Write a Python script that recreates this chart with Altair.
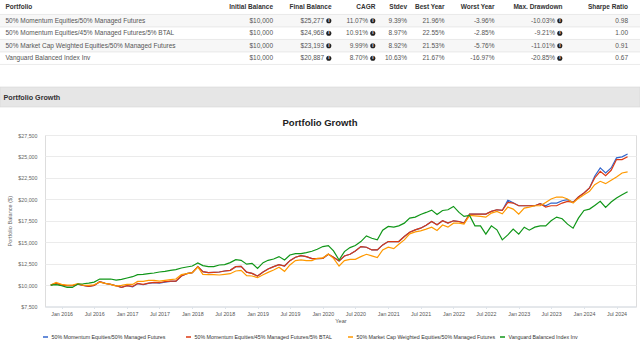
import altair as alt
import pandas as pd

# ---------------- data ----------------
series_names = [
    "50% Momentum Equities/50% Managed Futures",
    "50% Momentum Equities/45% Managed Futures/5% BTAL",
    "50% Market Cap Weighted Equities/50% Managed Futures",
    "Vanguard Balanced Index Inv",
]
series_colors = ["#3366cc", "#dc3912", "#ff9900", "#109618"]

months = pd.date_range("2015-11-01", "2024-09-01", freq="MS")

red = [10000, 10195, 10000, 9922, 9922, 10117, 9961, 9844, 9961, 10390, 10195, 10078,
       9922, 9727, 9922, 9844, 10195, 10078, 10234, 10312, 10273, 10390, 10468, 10468,
       11054, 11327, 11444, 12147, 11561, 11444, 11483, 11522, 11639, 11717, 12147, 12186,
       11500, 11366, 11054, 11522, 11873, 12147, 12381, 12225, 12849, 13239, 13435, 13318,
       13083, 13083, 13122, 13591, 13239, 12810, 13396, 13591, 13981, 14488, 14410, 14098,
       14098, 14684, 15074, 15074, 15074, 15659, 16167, 16440, 16635, 16986, 17416, 17025,
       17500, 17221, 17494, 17416, 17221, 18274, 18274, 18274, 18274, 18587, 18782, 18704,
       19640, 19562, 19250, 19250, 19250, 19250, 19484, 19094, 19250, 19250, 19562, 19758,
       19640, 20265, 20733, 21319, 22490, 23270, 22763, 23387, 24636, 24636, 24968]

blue = [10000, 10195, 10000, 9922, 9922, 10117, 9961, 9844, 9961, 10390, 10195, 10078,
        9922, 9727, 9922, 9800, 10150, 10040, 10190, 10270, 10230, 10350, 10430, 10430,
        11054, 11327, 11444, 12147, 11561, 11444, 11483, 11522, 11639, 11717, 12147, 12186,
        11500, 11366, 11054, 11522, 11873, 12147, 12381, 12225, 12849, 13239, 13435, 13318,
        13083, 13083, 13122, 13591, 13239, 12810, 13396, 13591, 13981, 14488, 14410, 14098,
        14098, 14684, 15074, 15074, 15074, 15659, 16167, 16440, 16635, 16986, 17416, 17025,
        17500, 17221, 17494, 17416, 17221, 18274, 18274, 18274, 18274, 18587, 18782, 18704,
        19900, 19600, 19250, 19250, 19250, 19250, 19484, 19250, 19562, 19562, 19836, 19953,
        19640, 20265, 20733, 21319, 22685, 23661, 23075, 23661, 24831, 24948, 25277]

orange = [10000, 10312, 10078, 10000, 10000, 10156, 10000, 9961, 10039, 10351, 10195, 10078,
          9883, 9961, 10078, 10078, 10429, 10429, 10546, 10546, 10468, 10546, 10624, 10703,
          11210, 11327, 11444, 12108, 11249, 11210, 11210, 11171, 11249, 11327, 11639, 11717,
          11100, 11054, 10859, 11210, 11483, 11756, 12069, 11600, 12342, 12849, 12927, 12849,
          12849, 13122, 13161, 13630, 13122, 12225, 12849, 13005, 13005, 13318, 13591, 13396,
          13200, 14098, 14410, 14254, 14762, 15269, 15972, 16206, 16323, 16518, 16752, 16362,
          17000, 16752, 17221, 17221, 17103, 18118, 18079, 18001, 17923, 18392, 18587, 18313,
          19094, 18860, 18274, 18977, 19094, 19250, 19250, 19640, 20031, 20265, 20265, 20031,
          19562, 20109, 20538, 20928, 21709, 22099, 21826, 22216, 22607, 23075, 23193]

green = [10000, 10039, 9922, 9727, 9727, 10117, 10156, 10234, 10351, 10703, 10703, 10703,
         10585, 10664, 10820, 10976, 11210, 11249, 11327, 11405, 11522, 11600, 11717, 11795,
         11991, 12108, 12225, 12576, 12264, 12147, 12147, 12342, 12381, 12615, 12966, 12888,
         12440, 12537, 11952, 12615, 12888, 13044, 13318, 12927, 13513, 13669, 13669, 13786,
         13942, 14176, 14488, 14606, 13981, 12927, 13903, 14371, 14606, 15074, 15737, 15464,
         15269, 16401, 16830, 16752, 16908, 17221, 17806, 17923, 18235, 18470, 18743, 18235,
         18700, 18782, 19172, 18470, 18001, 18118, 16908, 16908, 15933, 16908, 16440, 15269,
         15855, 16518, 15933, 16752, 16401, 16752, 16908, 16908, 17494, 17923, 17728, 17103,
         16635, 17806, 18704, 18860, 19289, 19758, 19055, 19679, 20148, 20538, 20887]

# table
col_names = ["Portfolio", "Initial Balance", "Final Balance", "CAGR", "Stdev",
             "Best Year", "Worst Year", "Max. Drawdown", "Sharpe Ratio"]
initial_bal = ["$10,000", "$10,000", "$10,000", "$10,000"]
final_bal = ["$25,277", "$24,968", "$23,193", "$20,887"]
cagr = ["11.07%", "10.91%", "9.99%", "8.70%"]
stdev = ["9.39%", "8.97%", "8.92%", "10.63%"]
best_year = ["21.96%", "22.55%", "21.53%", "21.67%"]
worst_year = ["-3.96%", "-2.85%", "-5.76%", "-16.97%"]
max_dd = ["-10.03%", "-9.21%", "-11.01%", "-20.85%"]
sharpe = ["0.98", "1.00", "0.91", "0.67"]

y_ticks = [7500, 10000, 12500, 15000, 17500, 20000, 22500, 25000, 27500]
x_tick_labels = [alt.DateTime(year=y, month=m, date=1)
                 for y in range(2016, 2025) for m in (1, 7)]

# ---------------- layout (pixels, relative to plot origin at 45,135) ----------------
OX, OY = 45, 135
FONT = "Liberation Sans"
PW, PH = 591, 171.5

df = pd.DataFrame([
    {"date": d, "series": n, "value": v}
    for n, vals in zip(series_names, [blue, red, orange, green])
    for d, v in zip(months, vals)
])

color_enc = alt.Color("series:N",
                      scale=alt.Scale(domain=series_names, range=series_colors),
                      legend=None)

lines = alt.Chart(df).mark_line(strokeWidth=1.2).encode(
    x=alt.X("date:T",
            scale=alt.Scale(domain=[alt.DateTime(year=2015, month=9, date=30),
                                    alt.DateTime(year=2024, month=10, date=18)]),
            axis=alt.Axis(values=x_tick_labels, format="%b %Y", title="Year",
                          grid=False, ticks=True, tickSize=2, tickColor="#dde3ea",
                          domainColor="#dde3ea", labelFontSize=5.3, labelColor="#555",
                          labelPadding=2.5, labelFont=FONT, titleFont=FONT,
                          titleFontSize=5.6, titleFontWeight="normal", titleColor="#555",
                          titleY=12, labelOverlap=False)),
    y=alt.Y("value:Q",
            scale=alt.Scale(domain=[7500, 27500], nice=False, zero=False),
            axis=alt.Axis(values=y_ticks, format="$,.0f", title="Portfolio Balance ($)",
                          grid=True, gridColor="#ebebeb", domain=False, ticks=False,
                          labelFontSize=5.3, labelColor="#666", labelPadding=8,
                          labelFont=FONT, titleFont=FONT, titleFontSize=5.6,
                          titleFontWeight="normal", titleColor="#666",
                          titleX=-33, titleY=PH / 2)),
    color=color_enc,
)

# custom legend (entry positions are layout)
legend_sym_x = [43, 186, 348, 500]
legend_y = 337
leg_df = pd.DataFrame({
    "series": series_names,
    "sx1": [x - OX for x in legend_sym_x],
    "sx2": [x + 5 - OX for x in legend_sym_x],
    "tx": [x + 8.5 - OX for x in legend_sym_x],
    "ty": [legend_y - OY] * 4,
})
legend_syms = alt.Chart(leg_df).mark_rule(strokeWidth=1.5).encode(
    x=alt.X("sx1:Q", scale=None), x2="sx2:Q", y=alt.Y("ty:Q", scale=None), color=color_enc)
legend_text = alt.Chart(leg_df).mark_text(
    font=FONT, fontSize=5.3, color="#333", align="left", baseline="middle").encode(
    text="series:N", x=alt.X("tx:Q", scale=None), y=alt.Y("ty:Q", scale=None))

# chart title
title_df = pd.DataFrame({"t": ["Portfolio Growth"]})
chart_title = alt.Chart(title_df).mark_text(
    font=FONT, fontSize=9.5, fontWeight="bold", color="#222", align="center",
    baseline="middle").encode(text="t:N", x=alt.value(320 - OX), y=alt.value(123 - OY))

# section header bar
bar = alt.Chart(title_df).mark_rect(fill="#e6e6e6", stroke="#d6d6d6", strokeWidth=0.6).encode(
    x=alt.value(-OX), x2=alt.value(640 - OX), y=alt.value(87 - OY), y2=alt.value(107 - OY))
bar_text = alt.Chart(title_df).mark_text(
    font=FONT, fontSize=7.2, fontWeight="bold", color="#333", align="left",
    baseline="middle").encode(text="t:N", x=alt.value(3.5 - OX), y=alt.value(97.5 - OY))

# table
head_y = 6.7
row_y = [20.7, 33.2, 45.7, 58.2]
row_h = 12.5
col_right = [None, 273, 331.5, 375.5, 407, 444.5, 494.5, 562.5, 628]
has_icon = [False, False, True, True, False, False, False, True, False]
columns = [series_names, initial_bal, final_bal, cagr, stdev, best_year, worst_year, max_dd, sharpe]

head_right, body_left, body_right, icons = [], [], [], []
for j, (name, vals) in enumerate(zip(col_names, columns)):
    if j > 0:
        head_right.append({"text": name, "px": col_right[j] - OX, "py": head_y - OY})
    for i, v in enumerate(vals):
        py = row_y[i] - OY
        if j == 0:
            body_left.append({"text": v, "px": 5.5 - OX, "py": py})
        elif has_icon[j]:
            body_right.append({"text": v, "px": col_right[j] - 7.4 - OX, "py": py})
            icons.append({"text": "i", "px": col_right[j] - 2.7 - OX, "py": py})
        else:
            body_right.append({"text": v, "px": col_right[j] - OX, "py": py})

stripes = pd.DataFrame({"y1": [row_y[0] - row_h / 2 - OY, row_y[2] - row_h / 2 - OY],
                        "y2": [row_y[0] + row_h / 2 - OY, row_y[2] + row_h / 2 - OY]})
borders = pd.DataFrame({"yy": [row_y[0] - row_h / 2 - OY] + [r + row_h / 2 - OY for r in row_y]})

stripe_layer = alt.Chart(stripes).mark_rect(fill="#f7f7f7").encode(
    x=alt.value(-OX), x2=alt.value(640 - OX),
    y=alt.Y("y1:Q", scale=None), y2=alt.Y2("y2:Q"))
border_layer = alt.Chart(borders).mark_rule(color="#dddddd", strokeWidth=0.6).encode(
    x=alt.value(-OX), x2=alt.value(640 - OX), y=alt.Y("yy:Q", scale=None))

def text_layer(rows, align, weight, color, size):
    return alt.Chart(pd.DataFrame(rows)).mark_text(
        font=FONT, fontSize=size, fontWeight=weight, color=color, align=align,
        baseline="middle").encode(
        text="text:N", x=alt.X("px:Q", scale=None), y=alt.Y("py:Q", scale=None))

head_left_layer = text_layer([{"text": col_names[0], "px": 5.5 - OX, "py": head_y - OY}],
                             "left", "bold", "#333", 6.5)
head_right_layer = text_layer(head_right, "right", "bold", "#333", 6.5)
body_left_layer = text_layer(body_left, "left", "normal", "#555", 6.5)
body_right_layer = text_layer(body_right, "right", "normal", "#555", 6.5)

icon_df = pd.DataFrame(icons)
icon_dots = alt.Chart(icon_df).mark_point(filled=True, color="#222", size=26, opacity=1).encode(
    x=alt.X("px:Q", scale=None), y=alt.Y("py:Q", scale=None))
icon_i = alt.Chart(icon_df).mark_text(font=FONT, fontSize=4.6, fontWeight="bold",
                                      color="white", align="center", baseline="middle").encode(
    text="text:N", x=alt.X("px:Q", scale=None), y=alt.Y("py:Q", scale=None))

chart = alt.layer(
    stripe_layer, border_layer, head_left_layer, head_right_layer,
    body_left_layer, body_right_layer, icon_dots, icon_i,
    bar, bar_text, chart_title, lines, legend_syms, legend_text,
).properties(
    width=PW, height=PH,
    autosize=alt.AutoSizeParams(type="none"),
    padding={"left": OX, "top": OY, "right": 640 - OX - PW, "bottom": 344 - OY - PH},
).configure_view(stroke=None).configure(background="white")

chart.save("out.html", embed_options={"renderer": "svg", "actions": False})
